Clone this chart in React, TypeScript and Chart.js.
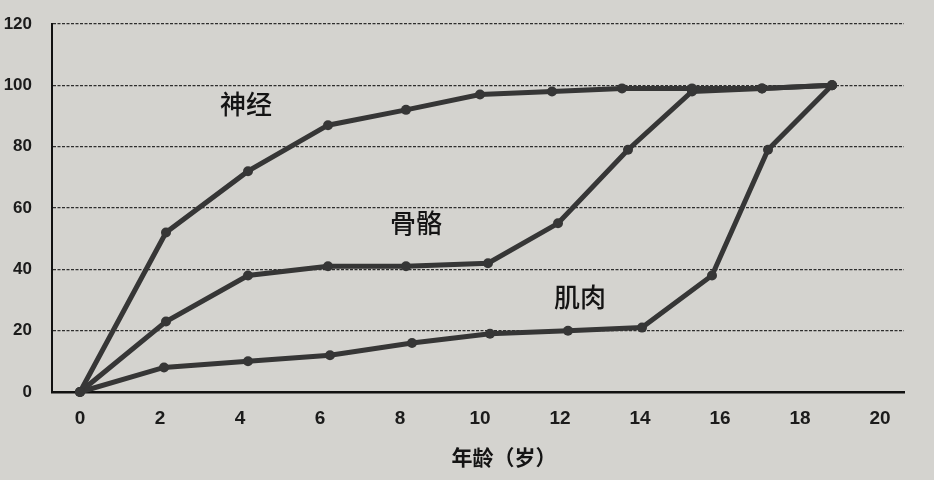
import React, { useEffect, useRef } from 'react';
import { Chart, registerables } from 'chart.js';

Chart.register(...registerables);

// Data (age in years, percent of adult level)
const seriesNames = ['神经', '骨骼', '肌肉'];

const neuralAges = [0, 2.15, 4.2, 6.2, 8.15, 10.0, 11.8, 13.55, 15.3, 17.05, 18.8];
const neuralValues = [0, 52, 72, 87, 92, 97, 98, 99, 99, 99, 100];

const boneAges = [0, 2.15, 4.2, 6.2, 8.15, 10.2, 11.95, 13.7, 15.3, 17.05, 18.8];
const boneValues = [0, 23, 38, 41, 41, 42, 55, 79, 98, 99, 100];

const muscleAges = [0, 2.1, 4.2, 6.25, 8.3, 10.25, 12.2, 14.05, 15.8, 17.2, 18.8];
const muscleValues = [0, 8, 10, 12, 16, 19, 20, 21, 38, 79, 100];

const xTickValues = [0, 2, 4, 6, 8, 10, 12, 14, 16, 18, 20];
const xTitle = '年龄（岁）';

const LINE_COLOR = '#363636';
const PAPER = '#d4d3cf';

// where each series name sits, in data units
const nameAnchors = [
  { x: 4.15, y: 94 },
  { x: 8.4, y: 55 },
  { x: 12.5, y: 31 },
];

const textPlugin = {
  id: 'bookText',
  afterDraw(chart: Chart) {
    const { ctx, chartArea } = chart;
    const xs = chart.scales.x;
    const ys = chart.scales.y;
    ctx.save();
    ctx.fillStyle = '#141414';
    ctx.textAlign = 'center';
    ctx.textBaseline = 'middle';
    ctx.font = '500 26px "Noto Sans CJK SC"';
    seriesNames.forEach((name, i) => {
      const a = nameAnchors[i];
      ctx.fillText(name, xs.getPixelForValue(a.x), ys.getPixelForValue(a.y));
    });
    ctx.font = 'bold 21px "Noto Sans CJK SC"';
    ctx.fillText(xTitle, xs.getPixelForValue(10.6), chartArea.bottom + 65);
    ctx.restore();
  },
};

const makeSet = (label: string, ages: number[], values: number[]) => ({
  label,
  data: ages.map((a, i) => ({ x: a, y: values[i] })),
  borderColor: LINE_COLOR,
  backgroundColor: LINE_COLOR,
  borderWidth: 5,
  pointRadius: 5,
  pointBackgroundColor: LINE_COLOR,
  pointBorderWidth: 0,
  tension: 0,
  clip: false as const,
});

const App: React.FC = () => {
  const canvasRef = useRef<HTMLCanvasElement>(null);
  const chartRef = useRef<Chart | null>(null);

  useEffect(() => {
    document.body.style.margin = '0';
    document.body.style.background = PAPER;
    if (!canvasRef.current) return;
    const ctx = canvasRef.current.getContext('2d');
    if (!ctx) return;

    chartRef.current = new Chart(ctx, {
      type: 'line',
      data: {
        datasets: [
          makeSet(seriesNames[0], neuralAges, neuralValues),
          makeSet(seriesNames[1], boneAges, boneValues),
          makeSet(seriesNames[2], muscleAges, muscleValues),
        ],
      },
      options: {
        responsive: true,
        maintainAspectRatio: false,
        animation: false,
        layout: { padding: { top: 24, right: 30, left: 0, bottom: 0 } },
        plugins: {
          legend: { display: false },
          tooltip: { enabled: false },
        },
        scales: {
          x: {
            type: 'linear',
            min: -0.7,
            max: 20.6,
            afterFit: (scale: any) => {
              scale.height = 88;
            },
            afterBuildTicks: (scale: any) => {
              scale.ticks = xTickValues.map(v => ({ value: v }));
            },
            grid: { display: false, drawTicks: false },
            border: { display: true, color: '#111', width: 2.5 },
            ticks: {
              padding: 15,
              color: '#1b1b1b',
              font: { family: '"Liberation Sans", Arial, sans-serif', size: 19, weight: 'bold' },
            },
          },
          y: {
            min: 0,
            max: 120,
            afterFit: (scale: any) => {
              scale.width = 52;
              // keep the tick padding from pushing the plot top down
              scale.paddingTop = 0;
              scale.paddingBottom = 0;
            },
            grid: { color: '#2e2e2e', lineWidth: 1.2, drawTicks: false },
            border: { display: true, color: '#111', width: 2, dash: [3, 1.5] },
            ticks: {
              stepSize: 20,
              padding: 20,
              color: '#1b1b1b',
              font: { family: '"Liberation Sans", Arial, sans-serif', size: 17, weight: 'bold' },
            },
          },
        },
      },
      plugins: [textPlugin],
    });

    return () => {
      if (chartRef.current) {
        chartRef.current.destroy();
        chartRef.current = null;
      }
    };
  }, []);

  return (
    <div style={{ width: 934, height: 480, background: PAPER, position: 'relative' }}>
      <canvas ref={canvasRef}></canvas>
    </div>
  );
};

export default App;
